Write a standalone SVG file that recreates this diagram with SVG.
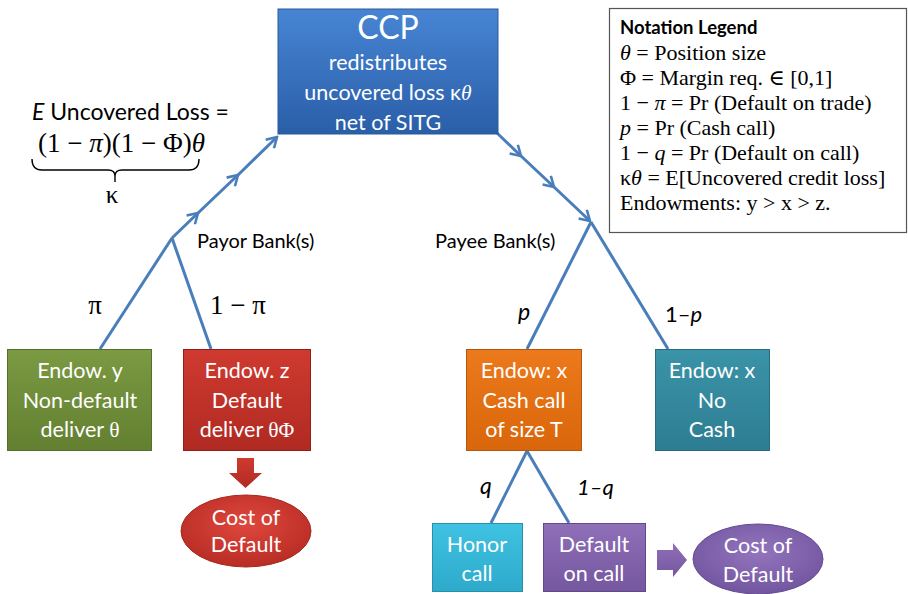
<svg xmlns="http://www.w3.org/2000/svg" width="908" height="594" viewBox="0 0 908 594">
<defs>
<style>
.nt{font-family:Lato,"Open Sans",sans-serif;fill:#fff;font-size:21.5px;text-anchor:middle}
.lb{font-family:Lato,"Open Sans",sans-serif;fill:#000;font-size:20px}
.mt{font-family:"Liberation Serif","DejaVu Serif",serif;fill:#000}
.ser{font-family:"Liberation Serif","DejaVu Serif",serif}
.lg{font-family:"Liberation Serif","DejaVu Serif",serif;font-size:22px;fill:#000}
.edge{fill:none;stroke:#4a7ebb;stroke-width:3}
</style>
<marker id="chev" viewBox="0 0 14 14" markerWidth="14" markerHeight="14" refX="12" refY="7" orient="auto" markerUnits="userSpaceOnUse">
<path d="M2,1 L12,7 L2,13" fill="none" stroke="#4a7ebb" stroke-width="2.6" stroke-linejoin="miter"/>
</marker>
<linearGradient id="gBlue" x1="0" y1="0" x2="0" y2="1"><stop offset="0" stop-color="#4785d4"/><stop offset="1" stop-color="#2a5ea8"/></linearGradient>
<linearGradient id="gGreen" x1="0" y1="0" x2="0" y2="1"><stop offset="0" stop-color="#7b9a42"/><stop offset="1" stop-color="#637f31"/></linearGradient>
<linearGradient id="gRed" x1="0" y1="0" x2="0" y2="1"><stop offset="0" stop-color="#cf3a30"/><stop offset="1" stop-color="#b02a22"/></linearGradient>
<linearGradient id="gOrange" x1="0" y1="0" x2="0" y2="1"><stop offset="0" stop-color="#ec7a1c"/><stop offset="1" stop-color="#d9660a"/></linearGradient>
<linearGradient id="gTeal" x1="0" y1="0" x2="0" y2="1"><stop offset="0" stop-color="#3a93a8"/><stop offset="1" stop-color="#2e7d92"/></linearGradient>
<linearGradient id="gCyan" x1="0" y1="0" x2="0" y2="1"><stop offset="0" stop-color="#3fc2e2"/><stop offset="1" stop-color="#2eaacb"/></linearGradient>
<linearGradient id="gPurple" x1="0" y1="0" x2="0" y2="1"><stop offset="0" stop-color="#8e6fb8"/><stop offset="1" stop-color="#7557a0"/></linearGradient>
<radialGradient id="rRed" cx="0.5" cy="0.4" r="0.6"><stop offset="0" stop-color="#e0473d"/><stop offset="1" stop-color="#b82d25"/></radialGradient>
<radialGradient id="rPurple" cx="0.5" cy="0.4" r="0.6"><stop offset="0" stop-color="#9275bd"/><stop offset="1" stop-color="#7356a0"/></radialGradient>
</defs>
<rect width="908" height="594" fill="#fff"/>

<g id="connectors">
<polyline class="edge" points="172,238 198,213 238,175 277,137" marker-mid="url(#chev)" marker-end="url(#chev)"/>
<polyline class="edge" points="497,133 521,156 554,187 590,221" marker-mid="url(#chev)" marker-end="url(#chev)"/>
<line class="edge" x1="172" y1="238" x2="100" y2="349"/>
<line class="edge" x1="172" y1="238" x2="211" y2="349"/>
<line class="edge" x1="591" y1="222" x2="527" y2="349"/>
<line class="edge" x1="591" y1="222" x2="668" y2="349"/>
<line class="edge" x1="527" y1="451" x2="491" y2="523"/>
<line class="edge" x1="527" y1="451" x2="569" y2="523"/>
<polygon points="237,458 254,458 254,473 262,473 245.5,488 229,473 237,473" fill="url(#gRed)"/>
<polygon points="657,550 673,550 673,543 687,560 673,577 673,570 657,570" fill="url(#gPurple)"/>
</g>

<g id="ccp">
<rect x="278" y="9" width="220" height="125" fill="url(#gBlue)" stroke="#2a5a9c" stroke-width="1"/>
<text class="nt" x="388" y="39" style="font-size:32px">CCP</text>
<text class="nt" x="388" y="70">redistributes</text>
<text class="nt" x="388" y="100">uncovered loss κ<tspan class="ser" font-style="italic">θ</tspan></text>
<text class="nt" x="388" y="130">net of SITG</text>
</g>

<g id="legend">
<rect x="609.5" y="8.5" width="297" height="224" fill="#fff" stroke="#555" stroke-width="1.2"/>
<text x="620" y="34" font-family="Lato,'Open Sans',sans-serif" font-weight="bold" font-size="18.5" fill="#000">Notation Legend</text>
<text class="lg" x="620" y="60"><tspan font-style="italic">θ</tspan> = Position size</text>
<text class="lg" x="620" y="85">Φ = Margin req. ∈ [0,1]</text>
<text class="lg" x="620" y="110">1 − <tspan font-style="italic">π</tspan> = Pr (Default on trade)</text>
<text class="lg" x="620" y="135"><tspan font-style="italic">p</tspan> = Pr (Cash call)</text>
<text class="lg" x="620" y="160">1 − <tspan font-style="italic">q</tspan> = Pr (Default on call)</text>
<text class="lg" x="620" y="185">κ<tspan font-style="italic">θ</tspan> = E[Uncovered credit loss]</text>
<text class="lg" x="620" y="210">Endowments:  y &gt; x &gt; z.</text>
</g>

<g id="loss-label">
<text class="lb" x="32" y="120" style="font-size:23px"><tspan font-style="italic">E</tspan> Uncovered Loss =</text>
<text class="mt" x="38" y="152" font-size="27">(1 − <tspan font-style="italic">π</tspan>)(1 − Φ)<tspan font-style="italic">θ</tspan></text>
<path d="M32,159 Q32,170 42,170 L108,170 Q115,170 115,176 L115,182 M115,176 Q115,170 122,170 L189,170 Q199,170 199,159" fill="none" stroke="#000" stroke-width="1.4"/>
<text class="mt" x="112" y="203" font-size="25" text-anchor="middle">κ</text>
</g>

<g id="edge-labels">
<text class="lb" x="197" y="248">Payor Bank(s)</text>
<text class="lb" x="435" y="248">Payee Bank(s)</text>
<text class="mt" x="95" y="314" font-size="27" text-anchor="middle">π</text>
<text class="mt" x="210" y="314" font-size="27">1 − π</text>
<text class="lb" x="524" y="320" style="font-size:23px" font-style="italic" text-anchor="middle">p</text>
<text class="lb" x="665" y="322" style="font-size:22px">1–<tspan font-style="italic">p</tspan></text>
<text class="lb" x="486" y="494" style="font-size:23px" font-style="italic" text-anchor="middle">q</text>
<text class="lb" x="577" y="495" style="font-size:22px" font-style="italic">1–q</text>
</g>

<g id="endow-y">
<rect x="7.5" y="349.5" width="144" height="101" fill="url(#gGreen)" stroke="#55702a" stroke-width="1"/>
<text class="nt" x="80" y="378">Endow. y</text>
<text class="nt" x="80" y="408">Non-default</text>
<text class="nt" x="80" y="437">deliver <tspan class="ser">θ</tspan></text>
</g>

<g id="endow-z">
<rect x="183.5" y="349.5" width="127" height="101" fill="url(#gRed)" stroke="#8f2019" stroke-width="1"/>
<text class="nt" x="247" y="378">Endow. z</text>
<text class="nt" x="247" y="408">Default</text>
<text class="nt" x="247" y="437">deliver <tspan class="ser">θΦ</tspan></text>
</g>

<g id="cost-default-1">
<ellipse cx="246" cy="531" rx="65" ry="36" fill="url(#rRed)" stroke="#a8281f" stroke-width="1"/>
<text class="nt" x="246" y="525">Cost of</text>
<text class="nt" x="246" y="552">Default</text>
</g>

<g id="endow-x-call">
<rect x="466.5" y="349.5" width="115" height="101" fill="url(#gOrange)" stroke="#b5570c" stroke-width="1"/>
<text class="nt" x="524" y="378">Endow: x</text>
<text class="nt" x="524" y="408">Cash call</text>
<text class="nt" x="524" y="437">of size T</text>
</g>

<g id="endow-x-nocash">
<rect x="655.5" y="349.5" width="114" height="101" fill="url(#gTeal)" stroke="#276c80" stroke-width="1"/>
<text class="nt" x="712" y="378">Endow: x</text>
<text class="nt" x="712" y="408">No</text>
<text class="nt" x="712" y="437">Cash</text>
</g>

<g id="honor-call">
<rect x="432.5" y="523.5" width="90" height="68" fill="url(#gCyan)" stroke="#2690ad" stroke-width="1"/>
<text class="nt" x="477" y="552">Honor</text>
<text class="nt" x="477" y="581">call</text>
</g>

<g id="default-on-call">
<rect x="543.5" y="523.5" width="102" height="68" fill="url(#gPurple)" stroke="#62478a" stroke-width="1"/>
<text class="nt" x="594" y="552">Default</text>
<text class="nt" x="594" y="581">on call</text>
</g>

<g id="cost-default-2">
<ellipse cx="758" cy="559" rx="65" ry="35" fill="url(#rPurple)" stroke="#654a8f" stroke-width="1"/>
<text class="nt" x="758" y="553">Cost of</text>
<text class="nt" x="758" y="582">Default</text>
</g>
</svg>
